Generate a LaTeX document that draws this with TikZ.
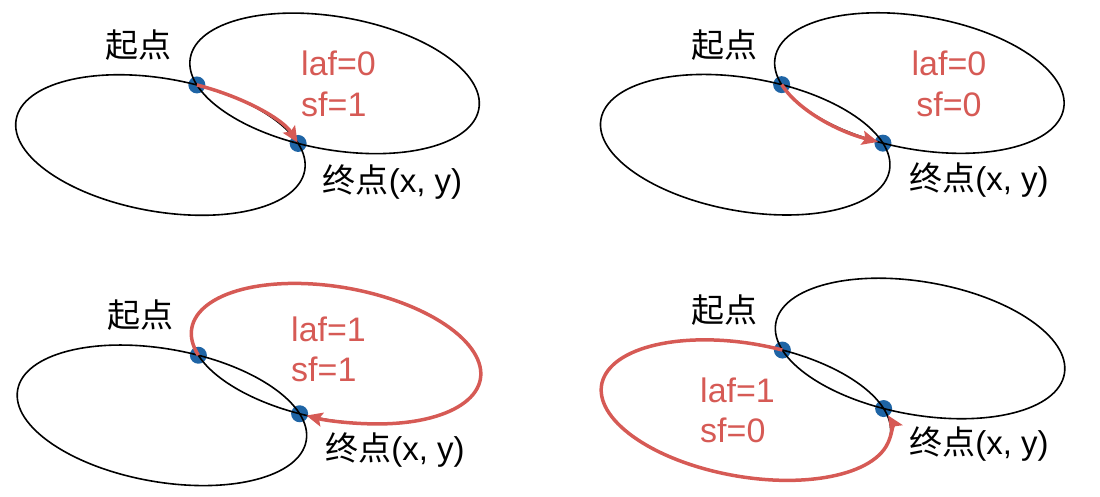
\documentclass[tikz,border=0pt]{standalone}
\usepackage{fontspec}
\setmainfont{Liberation Sans}
\newfontfamily\cjk{Noto Sans CJK SC}
\usetikzlibrary{arrows.meta}
\definecolor{arcred}{RGB}{214,90,85}
\definecolor{dotblue}{RGB}{30,100,165}
\tikzset{
  ell/.style={draw=black, line width=1.6pt},
  redarc/.style={draw=arcred, line width=3.5pt, -{Stealth[length=16pt,width=14pt,inset=3pt]}},
  dotpt/.style={circle, fill=dotblue, draw=none, inner sep=0pt, minimum size=17pt},
  cjklab/.style={font=\fontsize{33}{38}\selectfont, inner sep=0pt, anchor=base},
  flag/.style={text=arcred, font=\fontsize{34}{38}\selectfont, inner sep=0pt},
  panel/.style={shift={#1}, rotate=-10},
  er/.style={x radius=146.5, y radius=66.5}
}
\begin{document}
\begin{tikzpicture}[x=1pt,y=1pt]
\useasboundingbox (0,0) rectangle (1100,497);

% ---------- panel 1: laf=0, sf=1
\begin{scope}[panel={(247.5,382.8)}]
  \node[dotpt] (S1) at (-54.95,20.02) {};
  \node[dotpt] (E1) at (54.95,-20.02) {};
  \coordinate (CR1) at (80.39,45.47);
  \coordinate (CL1) at (-80.39,-45.47);
  \draw[ell] (CR1) ellipse [er];
  \draw[ell] (CL1) ellipse [er];
  \draw[redarc, shorten >=1pt] (S1.center) arc[start angle=80, end angle=22.5, er];
\end{scope}
\node[cjklab] (st1) at (138.5,439) {\cjk 起点};
\node[cjklab] (en1) at (392.5,304) {{\cjk 终点}(x, y)};
\node[flag, anchor=base west] (laf1) at (301,421) {laf=0};
\node[flag, anchor=base west] (sf1) at (301,380) {sf=1};

% ---------- panel 2: laf=0, sf=0
\begin{scope}[panel={(832.3,383.1)}]
  \node[dotpt] (S2) at (-54.95,20.02) {};
  \node[dotpt] (E2) at (54.95,-20.02) {};
  \coordinate (CR2) at (80.39,45.47);
  \coordinate (CL2) at (-80.39,-45.47);
  \draw[ell] (CR2) ellipse [er];
  \draw[ell] (CL2) ellipse [er];
  \draw[redarc, shorten >=5pt] (S2.center) arc[start angle=202.5, end angle=260, er];
\end{scope}
\node[cjklab] (st2) at (724.2,439) {\cjk 起点};
\node[cjklab] (en2) at (979,306) {{\cjk 终点}(x, y)};
\node[flag, anchor=base] (laf2) at (949,421) {laf=0};
\node[flag, anchor=base] (sf2) at (949,380) {sf=0};

% ---------- panel 3: laf=1, sf=1
\begin{scope}[panel={(249,112.5)}]
  \node[dotpt] (S3) at (-54.95,20.02) {};
  \node[dotpt] (E3) at (54.95,-20.02) {};
  \coordinate (CR3) at (80.39,45.47);
  \coordinate (CL3) at (-80.39,-45.47);
  \draw[ell] (CR3) ellipse [er];
  \draw[ell] (CL3) ellipse [er];
  \draw[redarc, shorten >=7pt] (S3.center) arc[start angle=202.5, end angle=-100, er];
\end{scope}
\node[cjklab] (st3) at (140.5,169) {\cjk 起点};
\node[cjklab] (en3) at (395,36) {{\cjk 终点}(x, y)};
\node[flag, anchor=base west] (laf3) at (291,155.3) {laf=1};
\node[flag, anchor=base west] (sf3) at (291,115.3) {sf=1};

% ---------- panel 4: laf=1, sf=0
\begin{scope}[panel={(833,117.7)}]
  \node[dotpt] (S4) at (-54.95,20.02) {};
  \node[dotpt] (E4) at (54.95,-20.02) {};
  \coordinate (CR4) at (80.39,45.47);
  \coordinate (CL4) at (-80.39,-45.47);
  \draw[ell] (CR4) ellipse [er];
  \draw[ell] (CL4) ellipse [er];
  \draw[redarc, shorten >=8pt] (S4.center) arc[start angle=80, end angle=382.5, er];
\end{scope}
\node[cjklab] (st4) at (724.2,174) {\cjk 起点};
\node[cjklab] (en4) at (979,42) {{\cjk 终点}(x, y)};
\node[flag, anchor=base west] (laf4) at (700,94.3) {laf=1};
\node[flag, anchor=base west] (sf4) at (700,54) {sf=0};
\end{tikzpicture}
\end{document}
